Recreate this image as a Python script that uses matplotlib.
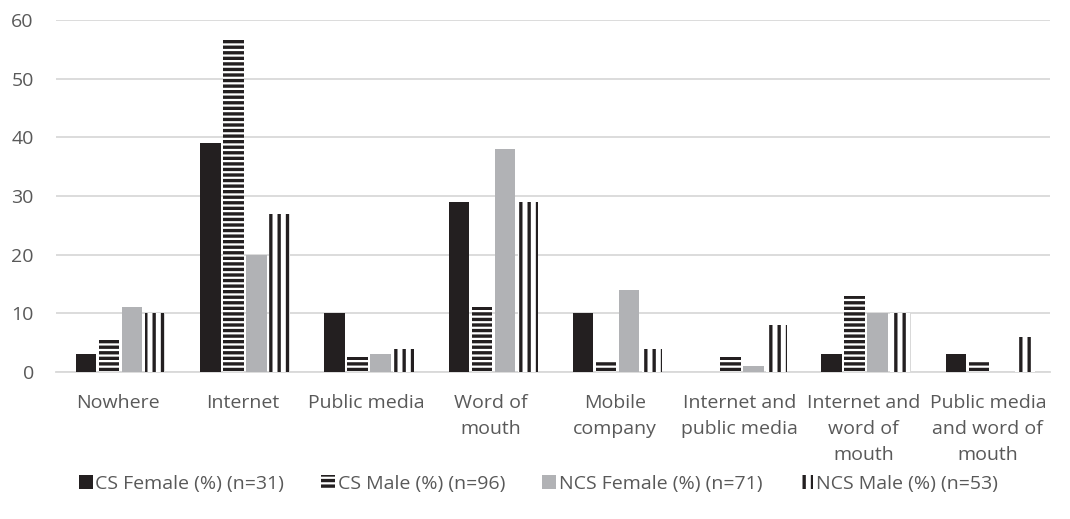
import matplotlib.pyplot as plt
import numpy as np

# datos
categorias = ["Nowhere", "Internet", "Public media", "Word of\nmouth", "Mobile\ncompany",
              "Internet and\npublic media", "Internet and\nword of\nmouth", "Public media\nand word of\nmouth"]
cs_female = [3, 39, 10, 29, 10, 0, 3, 3]
cs_male = [5.5, 57, 2.5, 11, 2, 2.5, 13, 2]
ncs_female = [11, 20, 3, 38, 14, 1, 10, 0]
ncs_male = [10, 27, 4, 29, 4, 8, 10, 6]
etiquetas = ["CS Female (%) (n=31)", "CS Male (%) (n=96)", "NCS Female (%) (n=71)", "NCS Male (%) (n=53)"]

plt.rcParams['font.family'] = ['Open Sans', 'DejaVu Sans']
plt.rcParams['hatch.linewidth'] = 2.4
plt.rcParams['hatch.color'] = '#231f20'

fig = plt.figure(figsize=(10.7, 5.19), dpi=100)
ax = fig.add_axes([56 / 1070, 1 - 372 / 519, 994 / 1070, 352 / 519])

x = np.arange(len(categorias))
w = 0.165
paso = 0.185
series = [
    (cs_female, dict(color='#231f20')),
    (cs_male, dict(color='white', hatch='---', edgecolor='#231f20', linewidth=0)),
    (ncs_female, dict(color='#b1b2b5')),
    (ncs_male, dict(color='white', hatch='||', edgecolor='#231f20', linewidth=0)),
]
for i, (vals, estilo) in enumerate(series):
    ax.bar(x + 0.02 + (i - 1.5) * paso, vals, width=w, label=etiquetas[i], zorder=3, **estilo)

ax.set_xlim(-0.5, len(categorias) - 0.5)
ax.set_ylim(0, 60)
ax.set_yticks(range(0, 61, 10))
ax.grid(axis='y', color='#d9d9d9', linewidth=1.3, zorder=0)
for s in ['top', 'right', 'left']:
    ax.spines[s].set_visible(False)
ax.spines['bottom'].set_color('#d9d9d9')
ax.spines['bottom'].set_linewidth(1.3)
ax.tick_params(length=0, colors='#595959', labelsize=14)
ax.tick_params(axis='y', pad=16)
ax.tick_params(axis='x', pad=16)
ax.set_xticks(x)
ax.set_xticklabels(categorias, linespacing=1.55)

fig.legend(loc='center', bbox_to_anchor=(0.503, 1 - 484 / 519), ncol=4, frameon=False,
           fontsize=14, labelcolor='#595959', handlelength=0.7, handleheight=0.7,
           handletextpad=0.15, columnspacing=1.9)

fig.savefig("out.png", dpi=100)
plt.close(fig)
